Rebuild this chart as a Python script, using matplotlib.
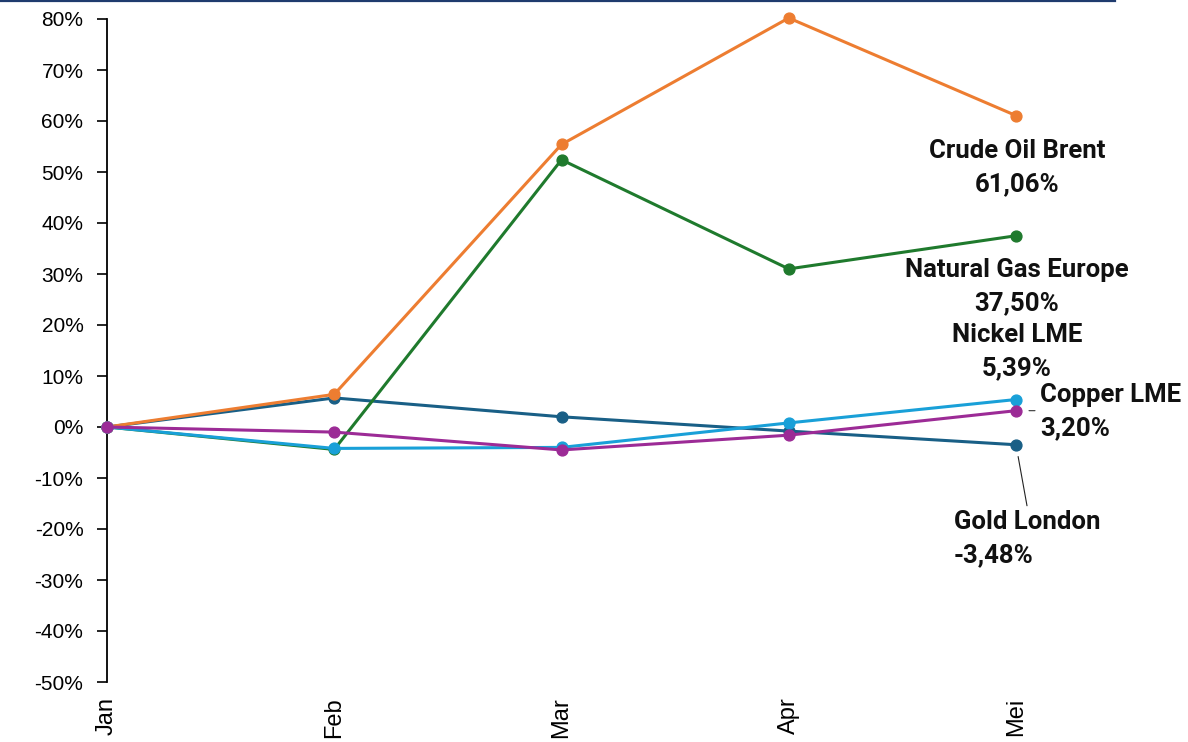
import matplotlib
matplotlib.use("Agg")
import matplotlib.pyplot as plt
from matplotlib.lines import Line2D

# Monthly price change since January (%)
months = ["Jan", "Feb", "Mar", "Apr", "Mei"]
gold_london = [0.0, 5.7, 2.0, -0.8, -3.48]
natural_gas_europe = [0.0, -4.4, 52.4, 31.0, 37.50]
crude_oil_brent = [0.0, 6.4, 55.4, 80.2, 61.06]
nickel_lme = [0.0, -4.2, -4.0, 0.8, 5.39]
copper_lme = [0.0, -1.0, -4.5, -1.6, 3.20]

series = [
    ("Gold London", gold_london, "#195f86"),
    ("Natural Gas Europe", natural_gas_europe, "#1f7a2d"),
    ("Crude Oil Brent", crude_oil_brent, "#ed7d31"),
    ("Nickel LME", nickel_lme, "#19a0d8"),
    ("Copper LME", copper_lme, "#9c2b96"),
]

W, H = 1188, 742
fig = plt.figure(figsize=(W / 100, H / 100), dpi=100)
ax = fig.add_axes([107 / W, 1 - 682 / H, (1016 - 107) / W, (682 - 19) / H])

x = list(range(len(months)))
for name, vals, color in series:
    ax.plot(x, vals, color=color, lw=2.2, marker="o", markersize=7.8,
            clip_on=False, zorder=3)

ax.set_xlim(0, len(months) - 1)
ax.set_ylim(-50, 80)
ax.set_yticks(range(-50, 81, 10))
ax.set_yticklabels([f"{t}%" for t in range(-50, 81, 10)],
                   fontfamily="Liberation Sans", fontsize=15)
ax.set_xticks(x)
ax.set_xticklabels(months, rotation=90, fontfamily="Liberation Sans",
                   fontsize=17, va="top")
ax.tick_params(axis="y", length=7, width=1.2, pad=10, direction="out")
ax.tick_params(axis="x", length=0, pad=11)
for side in ("top", "right", "bottom"):
    ax.spines[side].set_visible(False)
ax.spines["left"].set_linewidth(1.3)
ax.set_facecolor("none")


def fmt(v):
    return f"{v:.2f}%".replace(".", ",")


label_font = dict(fontfamily="Roboto", fontweight="bold", fontsize=18.5,
                  linespacing=1.45, va="center", color="#111111")

last = len(months) - 1
# (name, values, pixel offset of text anchor, horizontal alignment)
label_specs = [
    ("Crude Oil Brent", crude_oil_brent, (1, -52), "center"),
    ("Natural Gas Europe", natural_gas_europe, (1, -51), "center"),
    ("Nickel LME", nickel_lme, (1, 48), "center"),
    ("Copper LME", copper_lme, (24, -1), "left"),
    ("Gold London", gold_london, (-62, -94), "left"),
]
for name, vals, off, ha in label_specs:
    ax.annotate(f"{name}\n{fmt(vals[last])}", xy=(last, vals[last]),
                xytext=off, textcoords="offset pixels", ha=ha,
                annotation_clip=False, **label_font)

# leader lines
ax.annotate("", xy=(last, copper_lme[last]), xytext=(19, 0),
            textcoords="offset pixels", annotation_clip=False,
            arrowprops=dict(arrowstyle="-", lw=0.8, color="#333333",
                            shrinkA=0, shrinkB=13 / 1.389))
ax.annotate("", xy=(last, gold_london[last]), xytext=(11, -61),
            textcoords="offset pixels", annotation_clip=False,
            arrowprops=dict(arrowstyle="-", lw=0.8, color="#222222",
                            shrinkA=0, shrinkB=12 / 1.389))

# thin rule along the top edge
fig.add_artist(Line2D([0, 1115 / W], [1 - 1 / H, 1 - 1 / H],
                      transform=fig.transFigure, color="#1f3b6e", lw=1.6))

fig.savefig("out.png", dpi=100)
